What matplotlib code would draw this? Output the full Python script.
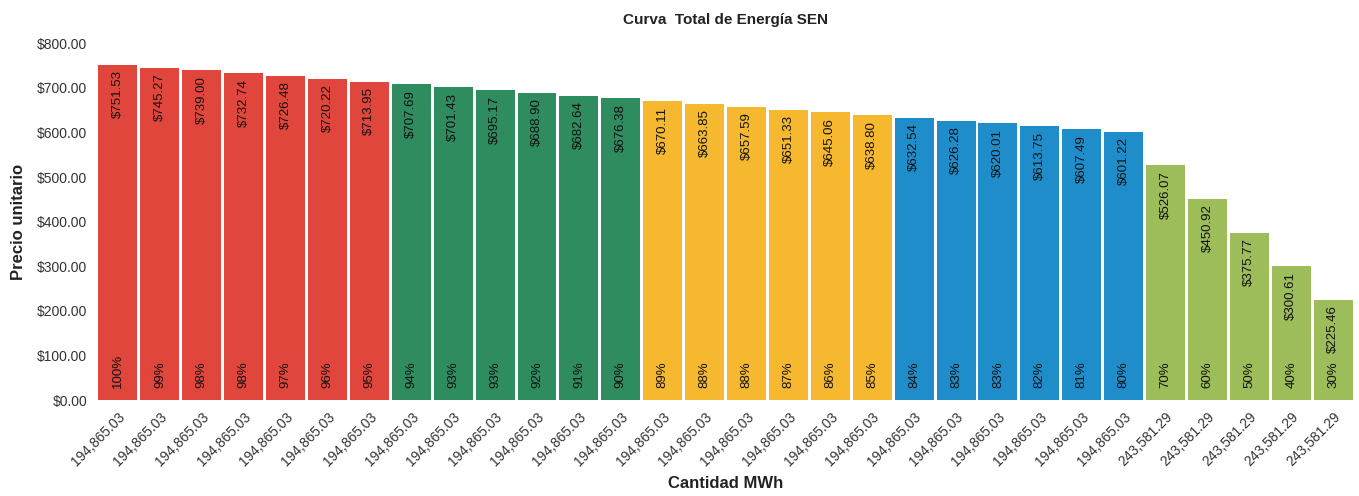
import matplotlib.pyplot as plt

plt.rcParams['font.family'] = ['Liberation Sans', 'DejaVu Sans']

# Curva Total de Energia SEN
cantidad = ["194,865.03"] * 25 + ["243,581.29"] * 5
precio = [751.53, 745.27, 739.00, 732.74, 726.48, 720.22, 713.95,
          707.69, 701.43, 695.17, 688.90, 682.64, 676.38,
          670.11, 663.85, 657.59, 651.33, 645.06, 638.80,
          632.54, 626.28, 620.01, 613.75, 607.49, 601.22,
          526.07, 450.92, 375.77, 300.61, 225.46]
porcentaje = [100, 99, 98, 98, 97, 96, 95,
              94, 93, 93, 92, 91, 90,
              89, 88, 88, 87, 86, 85,
              84, 83, 83, 82, 81, 80,
              70, 60, 50, 40, 30]
grupos = [7, 6, 6, 6, 5]
colores_grupo = ['#e0463c', '#2f8c5e', '#f5b82e', '#1f8dc9', '#9dbc5a']

colores = []
for n, c in zip(grupos, colores_grupo):
    colores += [c] * n

fig = plt.figure(figsize=(13.59, 4.96), dpi=100)
ax = fig.add_axes([0.0714, 0.193, 0.925, 0.72])
x = range(len(precio))
ax.bar(x, precio, width=0.93, color=colores)

for i, (p, pc) in enumerate(zip(precio, porcentaje)):
    ax.annotate("${:,.2f}".format(p), (i, p), xytext=(0, -4), textcoords='offset points',
                rotation=90, ha='center', va='top', fontsize=9.5, color='#111111')
    ax.annotate("{}%".format(pc), (i, 0), xytext=(0, 9), textcoords='offset points',
                rotation=90, ha='center', va='bottom', fontsize=9.5, color='#111111')

ax.set_xlim(-0.5, len(precio) - 0.5)
ax.set_ylim(0, 800)
ax.set_yticks(range(0, 801, 100))
ax.set_yticklabels(["${:,.2f}".format(v) for v in range(0, 801, 100)], fontsize=10, color='#333333')
ax.set_xticks(list(x))
ax.set_xticklabels(cantidad, rotation=45, ha='right', rotation_mode='anchor', fontsize=10, color='#333333')
ax.tick_params(length=0, pad=7)
for s in ax.spines.values():
    s.set_visible(False)

ax.set_title("Curva  Total de Energía SEN", fontsize=11, fontweight='bold', color='#222222', pad=14)
ax.set_xlabel("Cantidad MWh", fontsize=12, fontweight='bold', color='#222222', labelpad=5)
ax.set_ylabel("Precio unitario", fontsize=12, fontweight='bold', color='#222222', labelpad=8)

fig.savefig("out.png", dpi=100)
